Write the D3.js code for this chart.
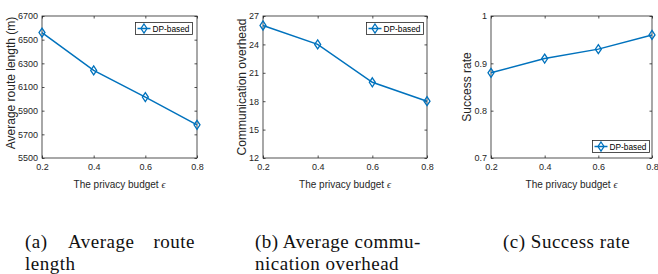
<!DOCTYPE html>
<html>
<head>
<meta charset="utf-8">
<script src="https://cdn.jsdelivr.net/npm/d3@7"></script>
<style>
  body { margin: 0; background: #fff; }
  svg { display: block; }
  .tick text { font-family: "Liberation Sans", Arial, sans-serif; }
</style>
</head>
<body>
<svg id="chart" width="658" height="274"></svg>
<script>
const budgets = [0.2, 0.4, 0.6, 0.8];
const routeLength = [6560, 6240, 6015, 5780];
const commOverhead = [26, 24, 20, 18];
const successRate = [0.88, 0.91, 0.93, 0.96];

const xTicks = [0.2, 0.4, 0.6, 0.8];
const routeTicks = [5500, 5700, 5900, 6100, 6300, 6500, 6700];
const commTicks = [12, 15, 18, 21, 24, 27];
const rateTicks = [0.7, 0.8, 0.9, 1];

const seriesName = "DP-based";
const blue = "#0072BD";
const svg = d3.select("#chart");

function diamond(g, x, y) {
    g.append("path")
        .attr("d", `M${x},${y - 4.5}L${x + 3},${y}L${x},${y + 4.5}L${x - 3},${y}Z`)
        .attr("fill", "none")
        .attr("stroke", blue)
        .attr("stroke-width", 1.3);
}

function drawPanel(cfg) {
    const x = d3.scaleLinear().domain([0.2, 0.8]).range([cfg.left, cfg.right]);
    const y = d3.scaleLinear().domain(cfg.yDomain).range([158, 16]);
    const g = svg.append("g");

    // ticks inside the box on all four sides
    const tl = 2.5;
    const tickStyle = sel => {
        sel.select(".domain").remove();
        sel.selectAll(".tick line").attr("stroke", "#262626").attr("stroke-width", 0.8);
        sel.selectAll(".tick text").attr("fill", "#262626").style("font-size", "9px");
    };
    g.append("g").attr("transform", `translate(0,158)`)
        .call(d3.axisBottom(x).tickValues(xTicks).tickSize(-tl).tickPadding(6).tickFormat(d3.format(".1f")))
        .call(tickStyle);
    g.append("g").attr("transform", `translate(0,16)`)
        .call(d3.axisTop(x).tickValues(xTicks).tickSize(-tl).tickFormat(""))
        .call(tickStyle);
    g.append("g").attr("transform", `translate(${cfg.left},0)`)
        .call(d3.axisLeft(y).tickValues(cfg.yTicks).tickSize(-tl).tickPadding(4).tickFormat(cfg.fmt))
        .call(tickStyle);
    g.append("g").attr("transform", `translate(${cfg.right},0)`)
        .call(d3.axisRight(y).tickValues(cfg.yTicks).tickSize(-tl).tickFormat(""))
        .call(tickStyle);

    g.append("rect")
        .attr("x", cfg.left).attr("y", 16)
        .attr("width", cfg.right - cfg.left).attr("height", 142)
        .attr("fill", "none").attr("stroke", "#262626").attr("stroke-width", 0.8);

    const pts = budgets.map((b, i) => [x(b), y(cfg.values[i])]);
    g.append("path")
        .attr("d", d3.line()(pts))
        .attr("fill", "none").attr("stroke", blue).attr("stroke-width", 1.5);
    pts.forEach(p => diamond(g, p[0], p[1]));

    // axis labels
    g.append("text")
        .attr("x", (cfg.left + cfg.right) / 2).attr("y", 188)
        .attr("text-anchor", "middle")
        .style("font-family", "Liberation Sans, Arial, sans-serif")
        .style("font-size", "10px").attr("fill", "#262626")
        .text("The privacy budget ")
        .append("tspan")
        .style("font-family", "Liberation Serif, serif")
        .style("font-style", "italic")
        .text("ϵ");

    g.append("text")
        .attr("transform", `translate(${cfg.yLabelX},${cfg.yLabelY}) rotate(-90)`)
        .attr("text-anchor", "middle")
        .style("font-family", "Liberation Sans, Arial, sans-serif")
        .style("font-size", "12px").attr("fill", "#262626")
        .text(cfg.yLabel);

    // legend
    const lg = g.append("g").attr("transform", `translate(${cfg.legend[0]},${cfg.legend[1]})`);
    lg.append("rect").attr("width", 57).attr("height", 12)
        .attr("fill", "#fff").attr("stroke", "#262626").attr("stroke-width", 0.8);
    lg.append("line").attr("x1", 2).attr("x2", 15).attr("y1", 6).attr("y2", 6)
        .attr("stroke", blue).attr("stroke-width", 1.5);
    diamond(lg, 8.5, 6);
    lg.append("text").attr("x", 17).attr("y", 9)
        .style("font-family", "Liberation Sans, Arial, sans-serif")
        .style("font-size", "8.3px").attr("fill", "#000")
        .text(seriesName);
}

drawPanel({
    left: 42, right: 197, yDomain: [5500, 6700], yTicks: routeTicks,
    values: routeLength, fmt: d3.format("d"),
    yLabel: "Average route length (m)", yLabelX: 15, yLabelY: 83,
    legend: [135.5, 22.5]
});
drawPanel({
    left: 263, right: 427, yDomain: [12, 27], yTicks: commTicks,
    values: commOverhead, fmt: d3.format("d"),
    yLabel: "Communication overhead", yLabelX: 246, yLabelY: 87,
    legend: [366.5, 22.5]
});
drawPanel({
    left: 491, right: 652, yDomain: [0.7, 1], yTicks: rateTicks,
    values: successRate, fmt: d => (d === 1 ? "1" : d3.format(".1f")(d)),
    yLabel: "Success rate", yLabelX: 471, yLabelY: 87,
    legend: [592.5, 140.5]
});

// sub-figure captions
const cap = svg.append("g")
    .style("font-family", "Liberation Serif, 'DejaVu Serif', serif")
    .style("font-size", "19px")
    .style("letter-spacing", "0.5px")
    .attr("fill", "#111");
cap.append("text").attr("x", 25).attr("y", 248).text("(a)");
cap.append("text").attr("x", 68).attr("y", 248).text("Average");
cap.append("text").attr("x", 195).attr("y", 248).attr("text-anchor", "end").text("route");
cap.append("text").attr("x", 25).attr("y", 270).text("length");
cap.append("text").attr("x", 255).attr("y", 248).text("(b) Average commu-");
cap.append("text").attr("x", 255).attr("y", 270).text("nication overhead");
cap.append("text").attr("x", 503).attr("y", 248).text("(c) Success rate");
</script>
</body>
</html>
